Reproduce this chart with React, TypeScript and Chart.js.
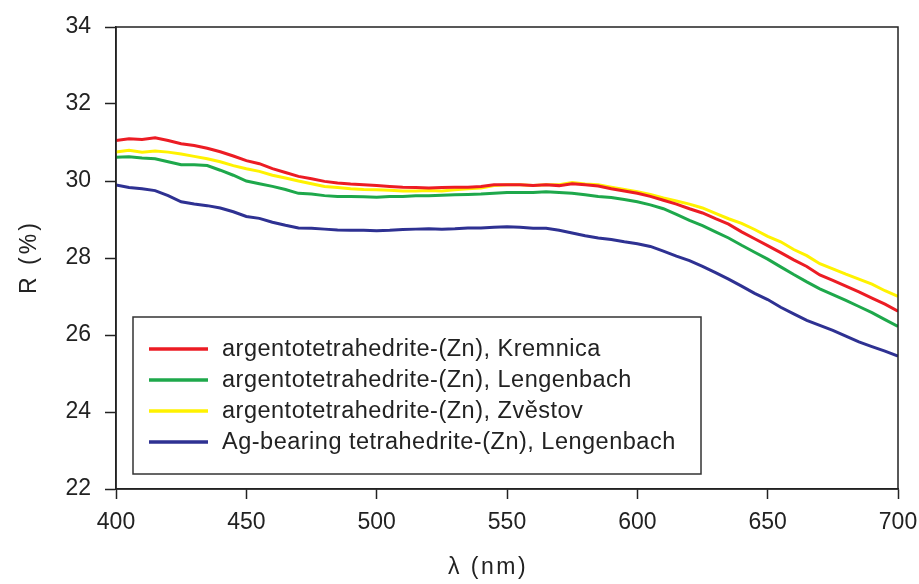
import React, { useEffect, useRef } from "react";
import { Chart, registerables } from "chart.js";

Chart.register(...registerables);

const wavelengths = [
  400, 405, 410, 415, 420, 425, 430, 435, 440, 445, 450, 455, 460, 465, 470, 475, 480, 485, 490, 495,
  500, 505, 510, 515, 520, 525, 530, 535, 540, 545, 550, 555, 560, 565, 570, 575, 580, 585, 590, 595,
  600, 605, 610, 615, 620, 625, 630, 635, 640, 645, 650, 655, 660, 665, 670, 675, 680, 685, 690, 695, 700,
];

const kremnica = [
  31.05, 31.1, 31.08, 31.12, 31.05, 30.97, 30.92, 30.85, 30.76, 30.65, 30.53, 30.45, 30.32, 30.22, 30.12, 30.06, 29.99, 29.95, 29.92, 29.9,
  29.88, 29.86, 29.84, 29.83, 29.82, 29.83, 29.84, 29.84, 29.86, 29.9, 29.9, 29.9, 29.88, 29.9, 29.88, 29.93, 29.9, 29.87, 29.8, 29.74,
  29.68, 29.6, 29.5, 29.4, 29.28, 29.17, 29.02, 28.88, 28.68, 28.5, 28.32, 28.14, 27.95, 27.78, 27.56, 27.42, 27.27, 27.12, 26.96, 26.8, 26.62,
];

const lengenbach = [
  30.62, 30.63, 30.6, 30.58, 30.5, 30.42, 30.42, 30.4, 30.28, 30.15, 30.0, 29.93, 29.86, 29.78, 29.68, 29.66, 29.62, 29.6, 29.6, 29.59,
  29.58, 29.6, 29.6, 29.62, 29.62, 29.63, 29.64, 29.65, 29.66, 29.68, 29.7, 29.7, 29.7, 29.72, 29.7, 29.68, 29.64, 29.6, 29.57, 29.52,
  29.46, 29.38, 29.28, 29.13, 28.98, 28.84, 28.68, 28.52, 28.33, 28.15, 27.97, 27.77, 27.57, 27.38, 27.2, 27.05, 26.9, 26.74, 26.58, 26.4, 26.22,
];

const zvestov = [
  30.75, 30.8, 30.75, 30.78, 30.75, 30.7, 30.64, 30.58, 30.5, 30.4, 30.32, 30.25, 30.15, 30.08, 30.0, 29.93, 29.86, 29.83, 29.8, 29.78,
  29.77, 29.76, 29.74, 29.74, 29.75, 29.74, 29.77, 29.8, 29.82, 29.88, 29.9, 29.9, 29.88, 29.9, 29.9, 29.96, 29.92, 29.9, 29.84, 29.78,
  29.72, 29.65, 29.56, 29.48, 29.4, 29.3, 29.16, 29.02, 28.9, 28.74, 28.56, 28.42, 28.22, 28.06, 27.85, 27.72, 27.58, 27.45, 27.32, 27.15, 27.0,
];

const agBearing = [
  29.9, 29.83, 29.8, 29.75, 29.62, 29.46, 29.4, 29.36, 29.3, 29.2, 29.08, 29.03, 28.93, 28.85, 28.78, 28.77, 28.75, 28.73, 28.72, 28.72,
  28.71, 28.72, 28.74, 28.75, 28.76, 28.75, 28.76, 28.78, 28.78, 28.8, 28.81, 28.8, 28.77, 28.77, 28.72, 28.65, 28.58, 28.52, 28.48, 28.42,
  28.37, 28.3, 28.18, 28.05, 27.93, 27.78, 27.62, 27.45, 27.27, 27.08, 26.92, 26.72, 26.55, 26.38, 26.25, 26.12, 25.97, 25.82, 25.7, 25.58, 25.45,
];

const seriesLabels = [
  "argentotetrahedrite-(Zn), Kremnica",
  "argentotetrahedrite-(Zn), Lengenbach",
  "argentotetrahedrite-(Zn), Zvěstov",
  "Ag-bearing tetrahedrite-(Zn), Lengenbach",
];
const seriesColors = ["#ec1c24", "#1ea84b", "#fff200", "#2e3192"];

const xTitle = "λ (nm)";
const yTitle = "R (%)";

const FONT = "'Liberation Sans', Arial, sans-serif";
const INK = "#222";

const frameLegendTitles = {
  id: "frameLegendTitles",
  afterDatasetsDraw(chart: any) {
    const { ctx, chartArea } = chart;
    ctx.save();
    ctx.strokeStyle = INK;
    ctx.lineWidth = 1.5;
    ctx.strokeRect(chartArea.left, chartArea.top, chartArea.right - chartArea.left, chartArea.bottom - chartArea.top);

    // legend box
    const bx = chartArea.left + 17;
    const by = chartArea.top + 290;
    const bw = 568;
    const bh = 157;
    ctx.fillStyle = "#fff";
    ctx.fillRect(bx, by, bw, bh);
    ctx.strokeStyle = "#333";
    ctx.lineWidth = 1.5;
    ctx.strokeRect(bx, by, bw, bh);

    ctx.font = `23.5px ${FONT}`;
    (ctx as any).letterSpacing = "0.5px";
    ctx.textBaseline = "middle";
    ctx.textAlign = "left";
    chart.data.datasets.forEach((ds: any, i: number) => {
      const y = by + 32 + i * 31;
      ctx.strokeStyle = ds.borderColor;
      ctx.lineWidth = 3.5;
      ctx.beginPath();
      ctx.moveTo(bx + 16, y);
      ctx.lineTo(bx + 75, y);
      ctx.stroke();
      ctx.fillStyle = INK;
      ctx.fillText(ds.label, bx + 89, y + 1);
    });

    // axis titles
    ctx.font = `23px ${FONT}`;
    ctx.fillStyle = INK;
    ctx.textAlign = "center";
    ctx.textBaseline = "middle";
    (ctx as any).letterSpacing = "2.5px";
    ctx.fillText(xTitle, 488, 568);
    ctx.translate(30, 257);
    ctx.rotate(-Math.PI / 2);
    (ctx as any).letterSpacing = "3px";
    ctx.fillText(yTitle, 0, 0);
    ctx.restore();
  },
};

export default function App() {
  const ref = useRef<HTMLCanvasElement>(null);

  useEffect(() => {
    if (!ref.current) return;
    const datasets = [kremnica, lengenbach, zvestov, agBearing].map((vals, i) => ({
      label: seriesLabels[i],
      data: wavelengths.map((x, j) => ({ x, y: vals[j] })),
      borderColor: seriesColors[i],
      backgroundColor: seriesColors[i],
      borderWidth: 3,
      pointRadius: 0,
      tension: 0,
    }));
    const chart = new Chart(ref.current, {
      type: "line",
      data: { datasets },
      plugins: [frameLegendTitles],
      options: {
        responsive: false,
        animation: false,
        layout: { padding: { top: 27, right: 21, left: 0, bottom: 0 } },
        plugins: { legend: { display: false }, tooltip: { enabled: false } },
        scales: {
          x: {
            type: "linear",
            min: 400,
            max: 700,
            afterFit: (s: any) => {
              s.height = 95;
              s.paddingLeft = 0;
              s.paddingRight = 0;
            },
            ticks: {
              stepSize: 50,
              color: INK,
              font: { family: FONT, size: 23 },
              padding: 10,
              maxRotation: 0,
            },
            grid: { drawOnChartArea: false, drawTicks: true, tickLength: 10, color: INK, tickWidth: 1.5 },
            border: { display: true, color: INK, width: 1.5 },
          },
          y: {
            min: 22,
            max: 34,
            afterFit: (s: any) => {
              s.width = 116;
              s.paddingTop = 0;
              s.paddingBottom = 0;
            },
            ticks: {
              stepSize: 2,
              color: INK,
              font: { family: FONT, size: 23 },
              padding: 14,
            },
            grid: { drawOnChartArea: false, drawTicks: true, tickLength: 11, color: INK, tickWidth: 1.5 },
            border: { display: true, color: INK, width: 1.5 },
          },
        },
      },
    });
    return () => chart.destroy();
  }, []);

  return (
    <div style={{ position: "absolute", left: 0, top: 0, width: 919, height: 584, background: "#fff" }}>
      <canvas ref={ref} width={919} height={584} />
    </div>
  );
}
